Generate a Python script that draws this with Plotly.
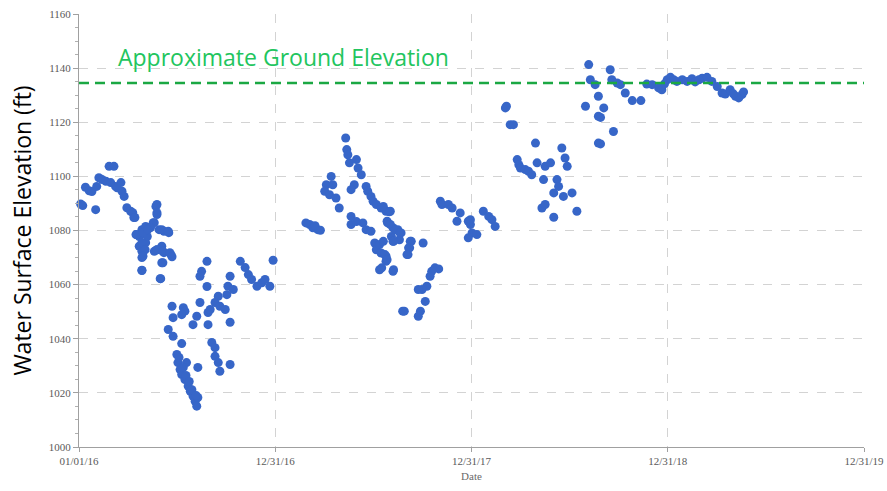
import pandas as pd
import plotly.graph_objects as go

# Observations: days since 2016-01-01 and water surface elevation (ft)
days_since_2016 = [
    3, 7, 12, 19, 24, 31, 33, 37, 43, 50, 56, 65, 59, 68, 71, 78, 80, 84, 89, 96,
    102, 106, 112, 117, 124, 133, 143, 145, 140, 149, 158, 167, 112, 117, 124, 127, 140, 145, 154, 158,
    171, 117, 154, 117, 152, 100, 104, 145, 145, 138, 132, 107, 119, 128, 154, 166, 117, 123, 119, 145,
    156, 169, 173, 156, 117, 151, 238, 228, 225, 238, 300, 309, 315, 321, 331, 340, 346, 355, 361, 281,
    277, 287, 275, 259, 253, 262, 272, 281, 225, 240, 244, 219, 212, 194, 197, 173, 175, 191, 240, 166,
    175, 191, 182, 184, 188, 191, 197, 203, 207, 212, 216, 219, 221, 247, 253, 253, 259, 262, 281, 221,
    200, 194, 199, 205, 210, 218, 186,
    496, 498, 500, 503, 516, 519, 525, 469, 472, 460, 457, 466, 478, 484, 512, 506, 534, 537, 543, 547,
    553, 562, 571, 577, 506, 506, 528, 534, 543, 574, 584, 593, 599, 581, 584, 596, 618, 615, 612, 429,
    435, 444, 422, 550, 553, 559, 562, 571, 571, 559, 584, 602,
    566, 579, 573, 579, 588, 597, 585, 566, 569, 573, 563, 585, 616, 613, 610, 640, 662, 669, 656, 653,
    647, 638, 631, 644, 635, 631, 605, 672, 675, 687, 694, 709, 703, 724, 728, 731, 724, 740,
    793, 795, 802, 808, 815, 818, 821, 830, 836, 842, 849, 852, 867, 877, 864, 883, 889, 892, 898, 904,
    908, 901, 917, 861, 867, 883, 926, 942, 966, 966, 752, 762, 768, 774, 728,
    948, 951, 960, 966, 976, 970, 994, 970, 988, 991, 1001, 1007, 1016, 1029, 1045, 1056, 1066, 1078, 1084, 1094,
    1100, 1112, 1122, 1131, 1140, 1146, 1159, 1168, 1177, 1187, 1196, 1202, 1211, 1221, 1227, 1233, 1236,
    1089, 1106, 1153, 1217, 439, 449, 516,
]
elevation_ft = [
    1089.8, 1089.2, 1096.0, 1094.7, 1094.4, 1087.7, 1096.3, 1099.5, 1098.8, 1098.2, 1103.7, 1103.7, 1097.7, 1096.3, 1095.8, 1097.7, 1094.5, 1092.6, 1088.4, 1087.1,
    1084.8, 1078.5, 1077.8, 1080.3, 1081.5, 1081.1, 1088.9, 1085.9, 1082.9, 1080.3, 1079.7, 1079.2, 1074.2, 1072.3, 1075.5, 1077.8, 1072.3, 1072.9, 1074.2, 1071.8,
    1071.1, 1070.0, 1068.1, 1065.2, 1062.2, 1086.6, 1084.8, 1089.6, 1086.6, 1082.9, 1081.1, 1078.5, 1079.2, 1080.3, 1080.3, 1079.7, 1075.5, 1072.9, 1070.5, 1072.9,
    1072.3, 1071.8, 1070.3, 1068.1, 1065.3, 1062.2, 1068.6, 1064.9, 1063.1, 1059.3, 1068.6, 1066.3, 1063.7, 1061.9, 1059.4, 1060.7, 1061.9, 1059.4, 1069.0, 1063.1,
    1059.4, 1058.2, 1056.3, 1055.7, 1053.4, 1052.0, 1050.8, 1046.1, 1053.4, 1049.7, 1050.8, 1048.3, 1045.2, 1051.5, 1050.2, 1052.0, 1047.8, 1048.9, 1045.2, 1043.4,
    1040.9, 1038.2, 1034.2, 1031.2, 1028.6, 1026.8, 1024.9, 1022.5, 1020.6, 1018.8, 1016.9, 1015.1, 1018.3, 1038.6, 1036.7, 1033.5, 1031.2, 1028.0, 1030.5, 1029.4,
    1031.2, 1029.4, 1026.4, 1024.2, 1021.2, 1019.0, 1033.1,
    1114.2, 1109.9, 1108.0, 1105.0, 1106.2, 1103.1, 1100.6, 1100.0, 1096.9, 1096.9, 1094.5, 1093.2, 1092.0, 1088.3, 1096.9, 1095.1, 1096.3, 1094.5, 1092.6, 1090.8,
    1089.6, 1088.3, 1087.1, 1086.9, 1085.2, 1082.2, 1082.8, 1080.3, 1079.7, 1082.8, 1081.0, 1080.3, 1079.1, 1077.8, 1076.0, 1076.6, 1076.0, 1073.6, 1071.1, 1082.2,
    1081.0, 1080.3, 1082.8, 1075.4, 1072.9, 1074.8, 1071.7, 1070.5, 1068.6, 1065.5, 1064.9, 1050.2,
    1088.9, 1087.1, 1083.4, 1082.2, 1080.3, 1079.1, 1076.0, 1076.0, 1071.1, 1069.2, 1066.2, 1065.5, 1076.0, 1073.6, 1071.1, 1075.4, 1066.2, 1065.8, 1064.9, 1063.1,
    1059.4, 1058.2, 1058.2, 1053.8, 1050.2, 1048.3, 1050.2, 1090.8, 1089.6, 1089.6, 1088.3, 1086.5, 1083.4, 1083.4, 1082.2, 1079.1, 1077.3, 1078.5,
    1125.3, 1125.9, 1119.1, 1119.1, 1106.2, 1104.3, 1103.1, 1102.5, 1101.9, 1100.6, 1112.3, 1105.0, 1103.7, 1105.0, 1098.8, 1093.9, 1098.8, 1096.3, 1110.5, 1106.8,
    1103.7, 1092.6, 1093.9, 1088.3, 1089.6, 1084.9, 1087.1, 1125.9, 1112.3, 1122.2, 1087.1, 1085.2, 1084.0, 1081.5, 1084.0,
    1141.3, 1135.7, 1133.9, 1129.6, 1125.3, 1121.8, 1116.6, 1112.0, 1139.4, 1135.7, 1134.5, 1133.9, 1130.8, 1128.0, 1128.0, 1134.1, 1133.9, 1132.7, 1132.0, 1135.7,
    1136.6, 1135.1, 1135.7, 1135.1, 1136.1, 1134.9, 1136.3, 1136.6, 1135.1, 1133.2, 1130.8, 1130.4, 1132.0, 1129.6, 1129.0, 1130.2, 1131.2,
    1134.2, 1135.7, 1135.7, 1130.5, 1081.8, 1080.1, 1083.3,
]

ground_elevation_ft = 1134.5
ground_label = "Approximate Ground Elevation"

x_tick_dates = ["2016-01-01", "2016-12-31", "2017-12-31", "2018-12-31", "2019-12-31"]
x_tick_labels = ["01/01/16", "12/31/16", "12/31/17", "12/31/18", "12/31/19"]
y_ticks = [1000, 1020, 1040, 1060, 1080, 1100, 1120, 1140, 1160]

dates = pd.Timestamp("2016-01-01") + pd.to_timedelta(days_since_2016, unit="D")

fig = go.Figure()
fig.add_trace(go.Scatter(
    x=dates, y=elevation_ft, mode="markers",
    marker=dict(size=9, color="#3766c8", line=dict(width=0)),
    showlegend=False, cliponaxis=False,
))

fig.add_shape(type="line", xref="paper", yref="y", x0=0, x1=1,
              y0=ground_elevation_ft, y1=ground_elevation_ft,
              line=dict(color="#1ba843", width=2.5, dash="10px,6px"))

fig.add_annotation(text=ground_label, xref="paper", yref="y",
                   x=0.047, y=1144.2, xanchor="left", yanchor="middle",
                   showarrow=False,
                   font=dict(family="Open Sans", size=23, color="#22c55e"))

tick_font = dict(family="Liberation Serif", size=11, color="#5a5a5a")

fig.update_layout(
    width=887, height=491,
    margin=dict(l=79, r=23, t=14, b=43.5),
    paper_bgcolor="white", plot_bgcolor="white",
    xaxis=dict(
        range=["2016-01-01", "2019-12-31"],
        tickvals=x_tick_dates, ticktext=x_tick_labels,
        tickfont=tick_font,
        automargin=False,
        showgrid=True, gridcolor="#d3d3d3", griddash="dash", gridwidth=1,
        showline=True, linecolor="#a0a0a0", linewidth=1,
        ticks="outside", ticklen=4, tickcolor="#a0a0a0",
        zeroline=False,
        title=dict(text="Date", font=dict(family="Liberation Serif", size=11, color="#6a6a6a"), standoff=6),
    ),
    yaxis=dict(
        range=[1000, 1160],
        tickvals=y_ticks,
        tickfont=tick_font,
        automargin=False,
        showgrid=True, gridcolor="#d3d3d3", griddash="dash", gridwidth=1,
        showline=True, linecolor="#a0a0a0", linewidth=1,
        ticks="outside", ticklen=5, tickcolor="#a0a0a0",
        minor=dict(dtick=5, ticks="outside", ticklen=3, tickcolor="#b0b0b0", showgrid=False),
        zeroline=False,
        title=dict(text="Water Surface Elevation (ft)", font=dict(family="Open Sans", size=23, color="black"), standoff=10),
    ),
)

fig.write_html("out.html")
